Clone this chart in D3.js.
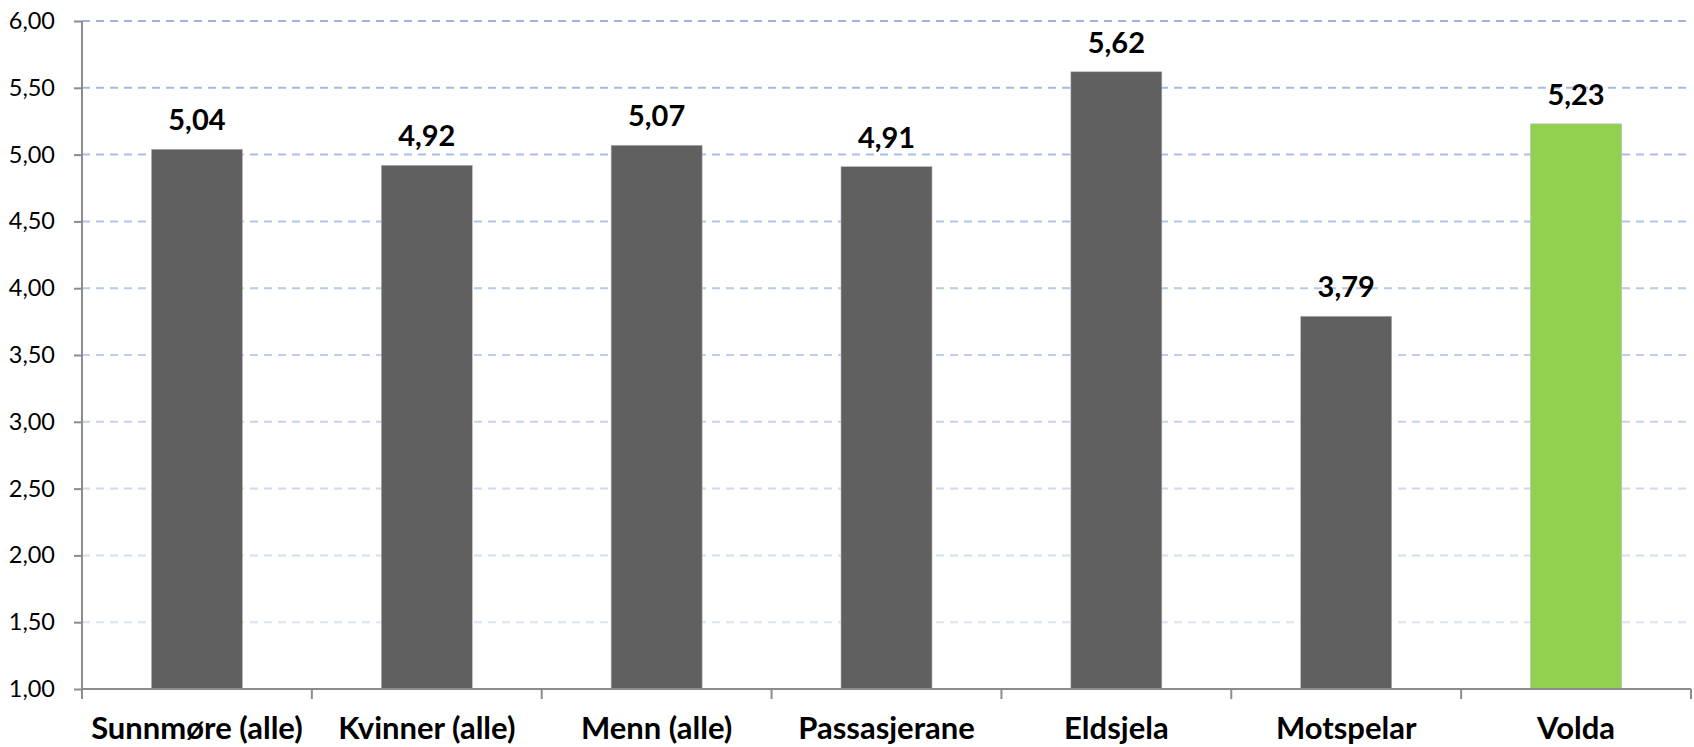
<!DOCTYPE html>
<html>
<head>
<meta charset="utf-8">
<script src="https://cdn.jsdelivr.net/npm/d3@7"></script>
<style>
html,body{margin:0;padding:0;background:#fff;}
svg{display:block;}
</style>
</head>
<body>
<svg id="chart" width="1694" height="747"></svg>
<script>
const categories = ["Sunnmøre (alle)", "Kvinner (alle)", "Menn (alle)", "Passasjerane", "Eldsjela", "Motspelar", "Volda"];
const values = [5.04, 4.92, 5.07, 4.91, 5.62, 3.79, 5.23];
const barColors = ["#606060", "#606060", "#606060", "#606060", "#606060", "#606060", "#92d050"];
const yTicks = [1.0, 1.5, 2.0, 2.5, 3.0, 3.5, 4.0, 4.5, 5.0, 5.5, 6.0];

const svg = d3.select("#chart");
const margin = {left: 82, right: 3, top: 21, bottom: 58};
const W = 1694, H = 747;
const x0 = margin.left, x1 = W - margin.right, y0 = H - margin.bottom, y1 = margin.top;

const x = d3.scaleBand().domain(categories).range([x0, x1]).paddingInner(0).paddingOuter(0);
const y = d3.scaleLinear().domain([1, 6]).range([y0, y1]);
const fmt = v => d3.format(".2f")(v).replace(".", ",");

const gridColor = d3.scaleLinear().domain([1, 6]).range(["#e2e8f7", "#9db4e2"]).interpolate(d3.interpolateRgb);

// gridlines
svg.append("g").selectAll("line").data(yTicks.filter(t => t > 1)).join("line")
  .attr("x1", x0).attr("x2", x1)
  .attr("y1", d => y(d)).attr("y2", d => y(d))
  .attr("stroke", d => gridColor(d)).attr("stroke-width", 2)
  .attr("stroke-dasharray", "8,6");

// bars
const bw = x.bandwidth() * 0.396;
svg.append("g").selectAll("rect").data(values).join("rect")
  .attr("x", (d, i) => x(categories[i]) + x.bandwidth() / 2 - bw / 2)
  .attr("width", bw)
  .attr("y", d => y(d))
  .attr("height", d => y(1) - y(d))
  .attr("fill", (d, i) => barColors[i])
  .attr("stroke", "#b8b8b8").attr("stroke-width", 0.6);

// value labels
svg.append("g").selectAll("text").data(values).join("text")
  .attr("x", (d, i) => x(categories[i]) + x.bandwidth() / 2)
  .attr("y", d => y(d) - 19)
  .attr("text-anchor", "middle")
  .attr("font-family", "Lato, 'Open Sans', sans-serif")
  .attr("font-weight", "bold")
  .attr("font-size", 29)
  .attr("fill", "#000")
  .text(d => fmt(d));

// y axis
const yAxis = d3.axisLeft(y).tickValues(yTicks).tickFormat(fmt).tickSize(8).tickPadding(19);
const gy = svg.append("g").attr("transform", `translate(${x0},0)`).call(yAxis);
gy.select(".domain").attr("stroke", "#8c8c8c").attr("stroke-width", 2).attr("d", `M0,${y1}V${y0}`);
gy.selectAll(".tick line").attr("stroke", "#8c8c8c").attr("stroke-width", 2);
gy.selectAll(".tick text").attr("font-family", "Lato, 'Open Sans', sans-serif").attr("font-size", 23.5).attr("fill", "#000");

// x axis
const xAxis = d3.axisBottom(x).tickSize(0).tickPadding(0);
const gx = svg.append("g").attr("transform", `translate(0,${y0})`).call(xAxis);
gx.select(".domain").attr("stroke", "#8c8c8c").attr("stroke-width", 2).attr("d", `M${x0},0H${x1}`);
gx.selectAll(".tick text")
  .attr("y", 50).attr("dy", null)
  .attr("font-family", "Lato, 'Open Sans', sans-serif")
  .attr("font-weight", "bold").attr("font-size", 31).attr("fill", "#000");
// boundary ticks
const bounds = categories.map(c => x(c)).concat([x1]);
gx.append("g").selectAll("line").data(bounds).join("line")
  .attr("x1", d => d).attr("x2", d => d).attr("y1", 0).attr("y2", 10)
  .attr("stroke", "#8c8c8c").attr("stroke-width", 2);
</script>
</body>
</html>
